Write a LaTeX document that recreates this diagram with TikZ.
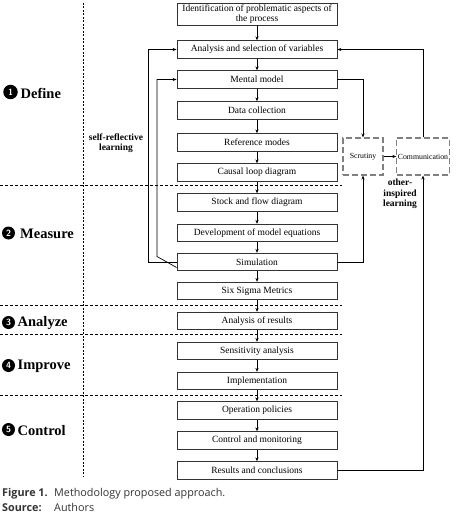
\documentclass[tikz,border=0pt]{standalone}
\usepackage{fontspec}
\setmainfont{Liberation Serif}
\newfontfamily\capfont{Open Sans}
\usetikzlibrary{arrows.meta}
\begin{document}
\begin{tikzpicture}[x=1pt,y=-1pt,
  procbox/.style={draw=black!80,line width=0.8pt,fill=white,minimum width=160pt,minimum height=17.5pt,inner sep=1pt,font=\fontsize{9.5}{10.5}\selectfont,align=center},
  dbox/.style={draw=black!50,line width=1.1pt,dash pattern=on 6pt off 3pt,minimum height=37pt,inner sep=1pt,font=\fontsize{7.8}{9}\selectfont},
  flow/.style={line width=0.7pt,-{Stealth[length=4pt,width=3.2pt]}},
  sep/.style={line width=0.9pt,dash pattern=on 3pt off 2pt},
  phase/.style={font=\fontsize{14.5}{16}\selectfont\bfseries,anchor=west,inner sep=0pt},
  cnum/.style={circle,fill=black,inner sep=0pt,minimum size=13pt,text=white,font=\sffamily\bfseries\fontsize{9}{9}\selectfont},
  learn/.style={font=\fontsize{9.5}{10.5}\selectfont\bfseries,align=center,inner sep=0pt}]
\useasboundingbox (0,0) rectangle (455,516);
% separators
\draw[sep] (0,185.5) -- (342,185.5);
\draw[sep] (0,305) -- (342,305);
\draw[sep] (0,334.5) -- (342,334.5);
\draw[sep] (0,395.5) -- (342,395.5);
\draw[line width=1pt,dash pattern=on 2pt off 1.5pt] (83,3) -- (83,476);
% boxes
\node[procbox,minimum height=22pt] (id) at (257,14) {Identification of problematic aspects of\\ the process};
\node[procbox] (an) at (257,49.5) {Analysis and selection of variables};
\node[procbox] (mm) at (257,79.5) {Mental model};
\node[procbox] (dc) at (257,110.5) {Data collection};
\node[procbox] (rm) at (257,142.5) {Reference modes};
\node[procbox] (cl) at (257,172.5) {Causal loop diagram};
\node[procbox] (sf) at (257,202.5) {Stock and flow diagram};
\node[procbox] (de) at (257,233) {Development of model equations};
\node[procbox] (si) at (257,262) {Simulation};
\node[procbox] (ss) at (257,291) {Six Sigma Metrics};
\node[procbox] (ar) at (257,321) {Analysis of results};
\node[procbox] (sa) at (257,351) {Sensitivity analysis};
\node[procbox] (im) at (257,381) {Implementation};
\node[procbox] (op) at (257,410.5) {Operation policies};
\node[procbox] (cm) at (257,440.5) {Control and monitoring};
\node[procbox] (rc) at (257,470.5) {Results and conclusions};
% dashed boxes
\node[dbox,minimum width=40pt] (sc) at (363,156.5) {Scrutiny};
\node[dbox,minimum width=52pt] (co) at (423,156.5) {Communication};
% vertical flow
\foreach \a/\b in {id/an,an/mm,mm/dc,dc/rm,rm/cl,cl/sf,sf/de,de/si,si/ss,ss/ar,ar/sa,sa/im,im/op,op/cm,cm/rc}
  \draw[flow] (\a.south) -- (\b.north);
% left feedback
\draw[flow] (si.west) -- (148,262) |- (an.west);
\draw[flow] ([yshift=-5.5pt]si.west) -- (157,256.5) |- (mm.west);
% right feedback
\draw[flow] (mm.east) -| (sc.north);
\draw[flow] (si.east) -| (sc.south);
\draw[flow] (sc.east) -- (co.west);
\draw[flow] (rc.east) -| (co.south);
\draw[flow] (co.north) |- (an.east);
% learning labels
\node[learn] (srl) at (116,143) {self-reflective\\learning};
\node[learn] (oil) at (400,194) {other-\\inspired\\learning};
% phase labels
\node[cnum,minimum size=14.5pt] (c1) at (10.5,92) {1};
\node[phase] (p1) at (20.5,93) {Define};
\node[cnum] (c2) at (8.5,233) {2};
\node[phase] (p2) at (20,234) {Measure};
\node[cnum] (c3) at (8.5,322.5) {3};
\node[phase] (p3) at (17.5,323.5) {Analyze};
\node[cnum] (c4) at (8.5,365.5) {4};
\node[phase] (p4) at (17.5,366.5) {Improve};
\node[cnum] (c5) at (8.5,429.5) {5};
\node[phase] (p5) at (17.5,430.5) {Control};
% caption
\node[anchor=base west,inner sep=0pt,font=\capfont\fontsize{10.8}{12}\selectfont,text=black!80] (cap1) at (2,496) {\textbf{Figure 1.}};
\node[anchor=base west,inner sep=0pt,font=\capfont\fontsize{10.8}{12}\selectfont,text=black!80] (cap2) at (54,496) {Methodology proposed approach.};
\node[anchor=base west,inner sep=0pt,font=\capfont\fontsize{10.8}{12}\selectfont,text=black!80] (src1) at (2,511.5) {\textbf{Source:}};
\node[anchor=base west,inner sep=0pt,font=\capfont\fontsize{10.8}{12}\selectfont,text=black!80] (src2) at (54,511.5) {Authors};
\end{tikzpicture}
\end{document}
